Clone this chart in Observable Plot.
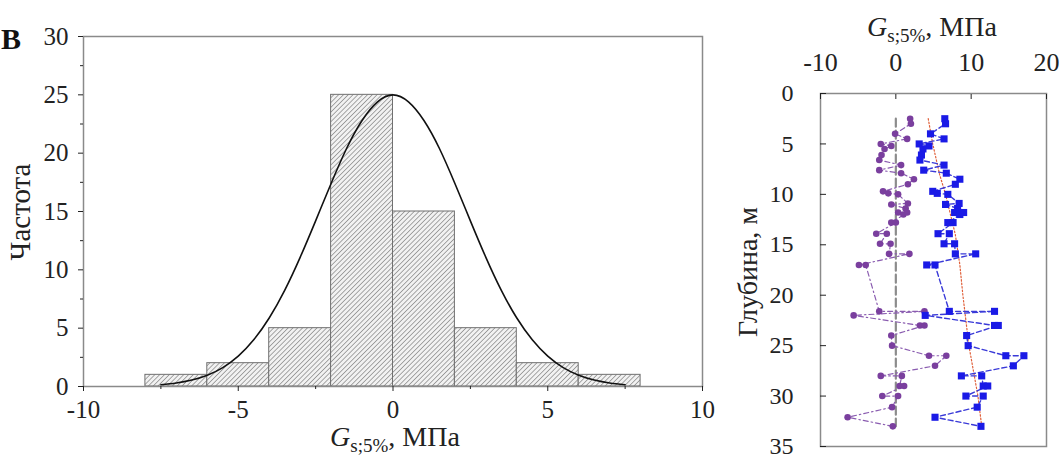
<!DOCTYPE html>
<html><head><meta charset="utf-8">
<script src="https://cdn.jsdelivr.net/npm/d3@7"></script>
<script src="https://cdn.jsdelivr.net/npm/@observablehq/plot@0.6"></script>
<style>
body{margin:0;background:#fff;}
#wrap{position:relative;width:1061px;height:460px;overflow:hidden;font-family:"Liberation Serif",serif;background:#fff;}
#left{position:absolute;left:0;top:0;}
#right{position:absolute;left:720px;top:0;}
</style></head><body><div id="wrap"><div id="left"></div><div id="right"></div></div>
<script>
// ---- Histogram (left) ----
const binStart = [-8, -6, -4, -2, 0, 2, 4, 6];
const binEnd   = [-6, -4, -2, 0, 2, 4, 6, 8];
const frequency = [1, 2, 5, 25, 15, 5, 2, 1];
// fitted normal curve
const curveX = [-7.5,-7,-6.5,-6,-5.5,-5,-4.5,-4,-3.5,-3,-2.5,-2,-1.5,-1,-0.5,0,0.5,1,1.5,2,2.5,3,3.5,4,4.5,5,5.5,6,6.5,7,7.5];
const curveY = [0.15,0.30,0.55,0.96,1.62,2.60,4.00,5.87,8.24,11.07,14.2,17.4,20.4,22.8,24.4,25,24.4,22.8,20.4,17.4,14.2,11.07,8.24,5.87,4.00,2.60,1.62,0.96,0.55,0.30,0.15];
const histXTicks = [-10, -5, 0, 5, 10];
const histXMinor = [-7.5, -2.5, 2.5, 7.5];
const histYTicks = [0, 5, 10, 15, 20, 25, 30];
const histYMinor = [2.5, 7.5, 12.5, 17.5, 22.5, 27.5];

// ---- Depth profile (right) ----
const depth = [2.5,3.0,4.0,4.5,5.0,5.2,5.5,6.1,6.6,7.1,7.6,7.9,8.5,9.0,9.7,9.9,10.0,10.9,11.0,11.4,11.8,12.0,11.8,12.8,12.8,13.9,13.9,14.9,14.9,15.9,15.9,17.0,17.0,21.6,21.6,22.0,23.0,23.0,24.0,25.0,26.0,26.0,27.0,28.0,28.0,29.0,29.0,30.0,30.0,31.1,32.1,33.0];
const purpleValue = [1.9,2.0,-0.1,1.5,-2.0,-0.6,-1.5,-1.9,-2.2,0.7,-2.2,0.7,2.4,1.6,-1.7,-1.0,0.3,1.6,-0.6,1.3,0.3,1.0,1.5,-0.6,0.0,-2.6,-1.2,-2.1,-0.7,-0.9,1.8,-4.9,-4.0,-2.2,3.8,-5.6,3.2,3.8,-0.6,-0.5,4.4,6.7,5.2,-2.0,0.8,0.5,1.1,-1.8,0.3,-0.5,-6.4,-0.4];
const blueValue = [6.5,6.6,4.6,6.4,3.1,4.4,3.6,3.4,3.2,6.4,3.7,6.7,8.5,7.9,4.9,5.5,6.9,8.4,6.6,8.2,7.8,8.5,9.0,6.9,7.6,5.6,7.1,6.4,7.8,7.9,10.6,4.1,5.2,7.1,13.1,3.9,13.1,13.6,9.4,9.6,14.6,17.0,15.6,8.7,11.4,11.6,12.2,9.3,11.6,10.8,5.2,11.3];
const trendDepth = [2.5, 5, 8, 10, 14, 17, 20, 25, 30, 33];
const trendValue = [4.3, 4.9, 5.8, 6.6, 7.9, 8.5, 8.9, 9.7, 10.9, 11.4];
const zeroDepth = [2.5, 33];
const zeroValue = [0, 0];
const profXTicks = [-10, 0, 10, 20];
const profYTicks = [0, 5, 10, 15, 20, 25, 30, 35];

const fmt = d => String(d);
const font = "Liberation Serif";

const bins = binStart.map((s, i) => ({x1: s, x2: binEnd[i], y: frequency[i]}));
const curve = curveX.map((x, i) => ({x, y: curveY[i]}));

const left = Plot.plot({
  width: 720, height: 460,
  marginLeft: 83, marginRight: 18, marginTop: 36, marginBottom: 74,
  style: {fontFamily: font, fontSize: "25px", background: "white", color: "#222"},
  x: {domain: [-10, 10]},
  y: {domain: [0, 30]},
  marks: [
    Plot.rectY(bins, {x1: "x1", x2: "x2", y: "y", fill: "url(#hatch)", stroke: "#707070", strokeWidth: 1}),
    Plot.line(curve, {x: "x", y: "y", curve: "natural", stroke: "#111", strokeWidth: 1.6}),
    Plot.frame({stroke: "#8a8a8a", strokeWidth: 1.5}),
    Plot.axisX({ticks: histXTicks, tickFormat: fmt, tickSize: 5, tickPadding: 9, label: null, fontSize: 25}),
    Plot.axisX({ticks: histXMinor, tickFormat: () => "", tickSize: 3, label: null}),
    Plot.axisY({ticks: histYTicks, tickFormat: fmt, tickSize: 5, tickPadding: 10, label: null, fontSize: 25}),
    Plot.axisY({ticks: histYMinor, tickFormat: () => "", tickSize: 3, label: null})
  ]
});

const sl = d3.select(left);
const defs = sl.insert("defs", ":first-child");
const pat = defs.append("pattern").attr("id", "hatch").attr("patternUnits", "userSpaceOnUse")
  .attr("width", 3.4).attr("height", 3.4).attr("patternTransform", "rotate(45)");
pat.append("rect").attr("width", 3.4).attr("height", 3.4).attr("fill", "#f2f2f2");
pat.append("line").attr("x1", 0).attr("y1", 0).attr("x2", 0).attr("y2", 3.4)
  .attr("stroke", "#666").attr("stroke-width", 1.1);

function addGLabel(sel, x, y) {
  const t = sel.append("text").attr("x", x).attr("y", y).attr("text-anchor", "middle")
    .attr("font-family", font).attr("font-size", 28).attr("fill", "#222");
  t.append("tspan").attr("font-style", "italic").text("G");
  t.append("tspan").attr("font-size", 19).attr("dy", 6).text("s;5%");
  t.append("tspan").attr("dy", -6).text(", МПа");
}
addGLabel(sl, 395, 446);
sl.append("text").attr("transform", "translate(30,212) rotate(-90)").attr("text-anchor", "middle")
  .attr("font-family", font).attr("font-size", 29).attr("fill", "#222").text("Частота");
sl.append("text").attr("x", 11).attr("y", 49).attr("font-family", font).attr("font-size", 30)
  .attr("font-weight", "bold").attr("fill", "#111").text("В");

document.getElementById("left").appendChild(left);

const purple = depth.map((d, i) => ({d, v: purpleValue[i]}));
const blue = depth.map((d, i) => ({d, v: blueValue[i]}));
const trend = trendDepth.map((d, i) => ({d, v: trendValue[i]}));
const zero = zeroDepth.map((d, i) => ({d, v: zeroValue[i]}));

const right = Plot.plot({
  width: 341, height: 460,
  marginLeft: 100, marginRight: 15, marginTop: 93, marginBottom: 14,
  style: {fontFamily: font, fontSize: "26px", background: "white", color: "#222"},
  x: {domain: [-10, 20]},
  y: {domain: [0, 35], reverse: true},
  marks: [
    Plot.line(zero, {x: "v", y: "d", stroke: "#8c8c8c", strokeWidth: 2.2, strokeDasharray: "8,4"}),
    Plot.line(trend, {x: "v", y: "d", stroke: "#e0603a", strokeWidth: 1.2, strokeDasharray: "1.5,2"}),
    Plot.line(purple, {x: "v", y: "d", stroke: "#8a5cb0", strokeWidth: 1.2, strokeDasharray: "5,3,1.5,3"}),
    Plot.line(blue, {x: "v", y: "d", stroke: "#3a3ad8", strokeWidth: 1.4, strokeDasharray: "5,3"}),
    Plot.dot(purple, {x: "v", y: "d", r: 3.3, fill: "#7a3f9e"}),
    Plot.dot(blue, {x: "v", y: "d", r: 4, symbol: "square", fill: "#1a1ae6"}),
    Plot.frame({stroke: "#8a8a8a", strokeWidth: 1.5}),
    Plot.axisX({anchor: "top", ticks: profXTicks, tickFormat: fmt, tickSize: -5, tickPadding: 28, label: null, fontSize: 26}),
    Plot.axisY({ticks: profYTicks, tickFormat: fmt, tickSize: -6, tickPadding: 33, label: null, fontSize: 24})
  ]
});
const sr = d3.select(right);
addGLabel(sr, 212, 36);
sr.append("text").attr("transform", "translate(37,272) rotate(-90)").attr("text-anchor", "middle")
  .attr("font-family", font).attr("font-size", 28).attr("fill", "#222").text("Глубина, м");
document.getElementById("right").appendChild(right);
</script>
</body></html>
